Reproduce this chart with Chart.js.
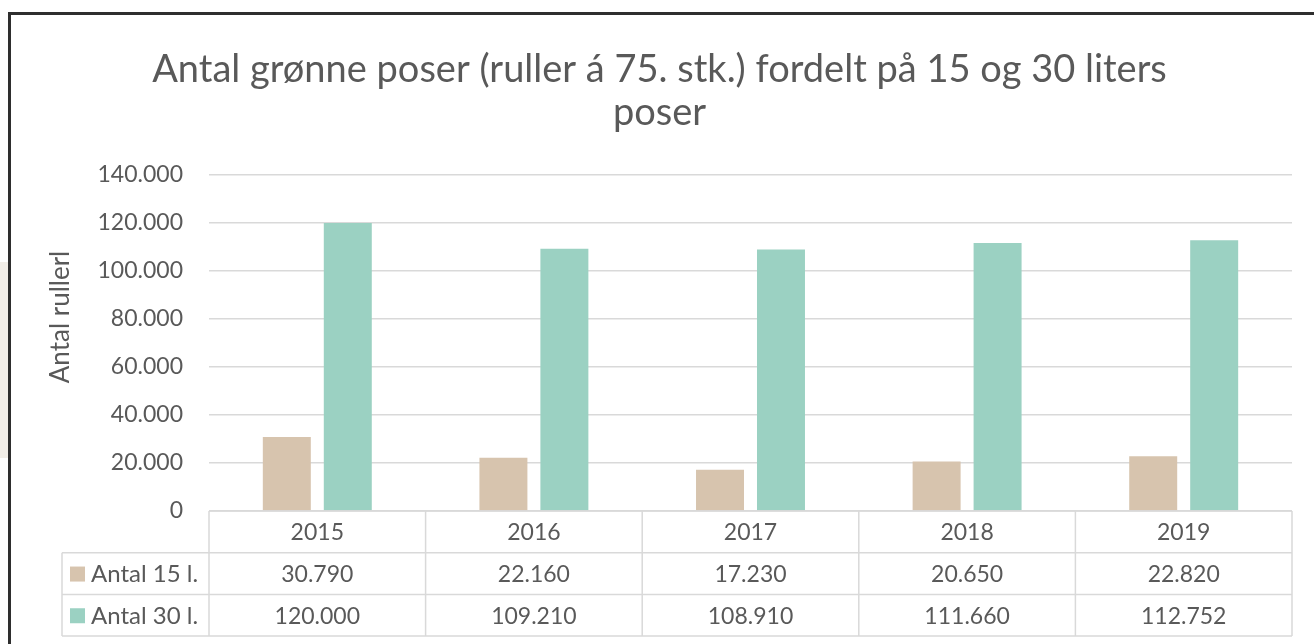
<!DOCTYPE html>
<html lang="da">
  <head>
    <meta charset="UTF-8" />
    <title>Antal grønne poser</title>
    <script src="https://cdn.jsdelivr.net/npm/chart.js"></script>
    <style>
      body {
        margin: 0;
        background: #fff;
        overflow: hidden;
      }
      .page {
        position: relative;
        width: 1314px;
        height: 644px;
      }
      .frame {
        position: absolute;
        left: 8px;
        top: 12px;
        right: -10px;
        bottom: -10px;
        border-left: 3px solid #2e2e2e;
        border-top: 3px solid #2e2e2e;
        pointer-events: none;
      }
      .strip {
        position: absolute;
        left: 0;
        top: 262px;
        width: 8px;
        height: 196px;
        background: #f2eee8;
      }
      canvas {
        position: absolute;
        left: 0;
        top: 0;
      }
    </style>
  </head>
  <body>
    <div class="page">
      <div class="strip"></div>
      <canvas id="chart" width="1314" height="644"></canvas>
      <div class="frame"></div>
    </div>

    <script>
      // Data
      const years = ["2015", "2016", "2017", "2018", "2019"];
      const seriesNames = ["Antal 15 l.", "Antal 30 l."];
      const antal15 = [30790, 22160, 17230, 20650, 22820];
      const antal30 = [120000, 109210, 108910, 111660, 112752];
      const yTicks = [0, 20000, 40000, 60000, 80000, 100000, 120000, 140000];
      const yTitle = "Antal rullerl";

      const colors = ["#d7c4ae", "#9bd1c2"];
      const gridColor = "#d9d9d9";
      const textColor = "#595959";
      const fontFamily = "Lato, 'Open Sans', sans-serif";

      const fmt = (v) =>
        String(v).replace(/\B(?=(\d{3})+(?!\d))/g, ".");

      // Y axis title, placed a bit above the axis middle like in Excel
      const axisTitle = {
        id: "axisTitle",
        afterDraw(chart) {
          const { ctx } = chart;
          ctx.save();
          ctx.translate(61, 317);
          ctx.rotate(-Math.PI / 2);
          ctx.fillStyle = textColor;
          ctx.font = `26px ${fontFamily}`;
          ctx.textAlign = "center";
          ctx.textBaseline = "middle";
          ctx.fillText(yTitle, 0, 0);
          ctx.restore();
        },
      };

      // Data table under the plot, Excel style
      const dataTable = {
        id: "dataTable",
        afterDraw(chart) {
          const { ctx, chartArea, scales } = chart;
          const x = scales.x;
          const catW = (chartArea.right - chartArea.left) / years.length;
          const top = chartArea.bottom;
          const rowH = 41.7;
          const legendLeft = 62;
          const rows = [antal15, antal30];

          ctx.save();
          ctx.strokeStyle = gridColor;
          ctx.lineWidth = 1.5;
          ctx.beginPath();
          ctx.moveTo(chartArea.left, top);
          ctx.lineTo(chartArea.right, top);
          for (let r = 1; r <= 3; r++) {
            ctx.moveTo(legendLeft, top + r * rowH);
            ctx.lineTo(chartArea.right, top + r * rowH);
          }
          ctx.moveTo(legendLeft, top + rowH);
          ctx.lineTo(legendLeft, top + 3 * rowH);
          years.forEach((_, i) => {
            const cx = x.getPixelForValue(i) - catW / 2;
            ctx.moveTo(cx, top);
            ctx.lineTo(cx, top + 3 * rowH);
          });
          ctx.moveTo(chartArea.right, top);
          ctx.lineTo(chartArea.right, top + 3 * rowH);
          ctx.stroke();

          ctx.fillStyle = textColor;
          ctx.font = `23px ${fontFamily}`;
          ctx.textAlign = "center";
          ctx.textBaseline = "middle";
          years.forEach((yr, i) => {
            const cx = x.getPixelForValue(i);
            ctx.fillText(yr, cx, top + rowH / 2 + 1);
            rows.forEach((vals, r) => {
              ctx.fillText(fmt(vals[i]), cx, top + rowH * (r + 1.5) + 1);
            });
          });

          ctx.textAlign = "left";
          seriesNames.forEach((name, r) => {
            const cy = top + rowH * (r + 1.5);
            ctx.fillStyle = colors[r];
            ctx.fillRect(70, cy - 7, 15, 15);
            ctx.fillStyle = textColor;
            ctx.font = `24px ${fontFamily}`;
            ctx.fillText(name, 91, cy + 1);
          });
          ctx.restore();
        },
      };

      new Chart(document.getElementById("chart"), {
        type: "bar",
        data: {
          labels: years,
          datasets: [
            {
              label: seriesNames[0],
              data: antal15,
              backgroundColor: colors[0],
              categoryPercentage: 0.563,
              barPercentage: 0.787,
            },
            {
              label: seriesNames[1],
              data: antal30,
              backgroundColor: colors[1],
              categoryPercentage: 0.563,
              barPercentage: 0.787,
            },
          ],
        },
        options: {
          responsive: false,
          animation: false,
          layout: {
            padding: { left: 27, right: 22, top: 0, bottom: 133 },
          },
          plugins: {
            legend: { display: false },
            tooltip: { enabled: false },
            title: {
              display: true,
              text: [
                "Antal grønne poser (ruller á 75. stk.) fordelt på 15 og 30 liters",
                "poser",
              ],
              color: textColor,
              font: { family: fontFamily, size: 38, weight: "normal", lineHeight: 1.13 },
              padding: { top: 48.5, bottom: 40.5 },
            },
          },
          scales: {
            x: {
              display: false,
            },
            y: {
              min: 0,
              max: 140000,
              afterBuildTicks: (scale) => {
                scale.ticks = yTicks.map((v) => ({ value: v }));
              },
              afterFit: (scale) => {
                scale.width = 209 - 27;
              },
              border: { display: false },
              grid: { color: gridColor, lineWidth: 1.5, drawTicks: false },
              ticks: {
                color: textColor,
                font: { family: fontFamily, size: 23 },
                padding: 26,
                callback: (v) => fmt(v),
              },
            },
          },
        },
        plugins: [dataTable, axisTitle],
      });
    </script>
  </body>
</html>
